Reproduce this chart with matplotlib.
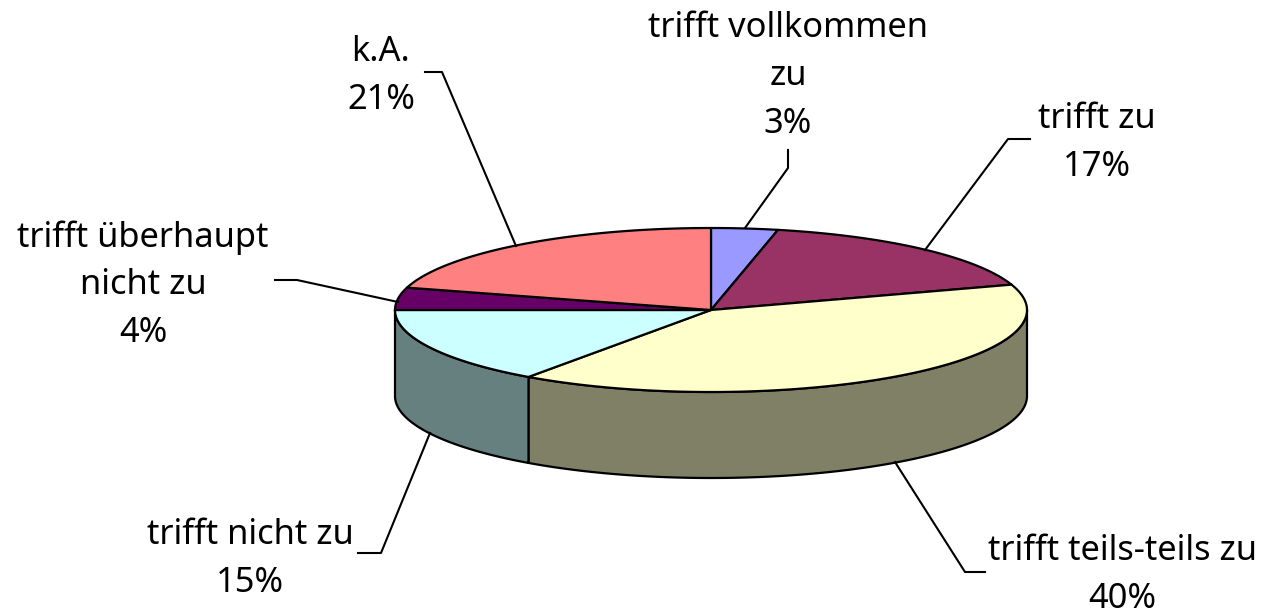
import numpy as np
import matplotlib
matplotlib.use('Agg')
import matplotlib.pyplot as plt
from matplotlib.colors import to_rgb

# chart data, clockwise from the top
labels = ['trifft vollkommen\nzu', 'trifft zu', 'trifft teils-teils zu',
          'trifft nicht zu', 'trifft überhaupt\nnicht zu', 'k.A.']
values = [3.4, 16.6, 39.8, 15.2, 4.4, 20.6]
colors = ['#9999FF', '#993366', '#FFFFCC', '#CCFFFF', '#660066', '#FF8080']

# pie geometry in pixels
cx, cy = 711, 310
rx, ry = 316, 82
depth = 86


def project(deg):
    rad = np.radians(deg)
    return cx + rx * np.cos(rad), cy - ry * np.sin(rad)


def arc(a, b):
    xs, ys = project(np.linspace(a, b, 200))
    return np.column_stack([xs, ys])


fig = plt.figure(figsize=(12.64, 6.14), dpi=100)
ax = fig.add_axes([0, 0, 1, 1])
ax.set_xlim(0, 1264)
ax.set_ylim(614, 0)
ax.axis('off')

# slice angles from the values
total = sum(values)
stops = 90 - 360 * np.cumsum([0] + values) / total

# side walls, only the front half is visible
for i, c in enumerate(colors):
    hi = min(stops[i], 0)
    lo = max(stops[i + 1], -180)
    if lo >= hi:
        continue
    top = arc(hi, lo)
    bottom = top[::-1] + [0, depth]
    side = [v * 0.5 for v in to_rgb(c)]
    ax.fill(*np.vstack([top, bottom]).T, facecolor=side, edgecolor='black', lw=1.6, joinstyle='round', zorder=2)

# top of the pie
for i, c in enumerate(colors):
    pts = np.vstack([[cx, cy], arc(stops[i], stops[i + 1])])
    ax.fill(*pts.T, facecolor=c, edgecolor='black', lw=1.6, joinstyle='round', zorder=3)

# label centres and leader lines
label_pos = [(788, 76), (1097, 143), (1122, 575), (250, 559), (143, 285), (381, 76)]
leaders = [
    [(788, 150), (788, 168), (745, 228)],
    [(1030, 139), (1008, 139), (925, 250)],
    [(985, 572), (965, 572), (895, 462)],
    [(358, 553), (381, 553), (430, 433)],
    [(275, 280), (297, 280), (398, 302)],
    [(425, 72), (442, 72), (516, 246)],
]
for name, v, (x, y), line in zip(labels, values, label_pos, leaders):
    ax.text(x, y, f'{name}\n{v:.0f}%', ha='center', va='center', fontsize=24.8,
            family=['Noto Sans'], color='black', linespacing=1.52, zorder=5)
    ax.plot(*zip(*line), color='black', lw=1.5, zorder=4)

fig.savefig('out.png', dpi=100, facecolor='white')
